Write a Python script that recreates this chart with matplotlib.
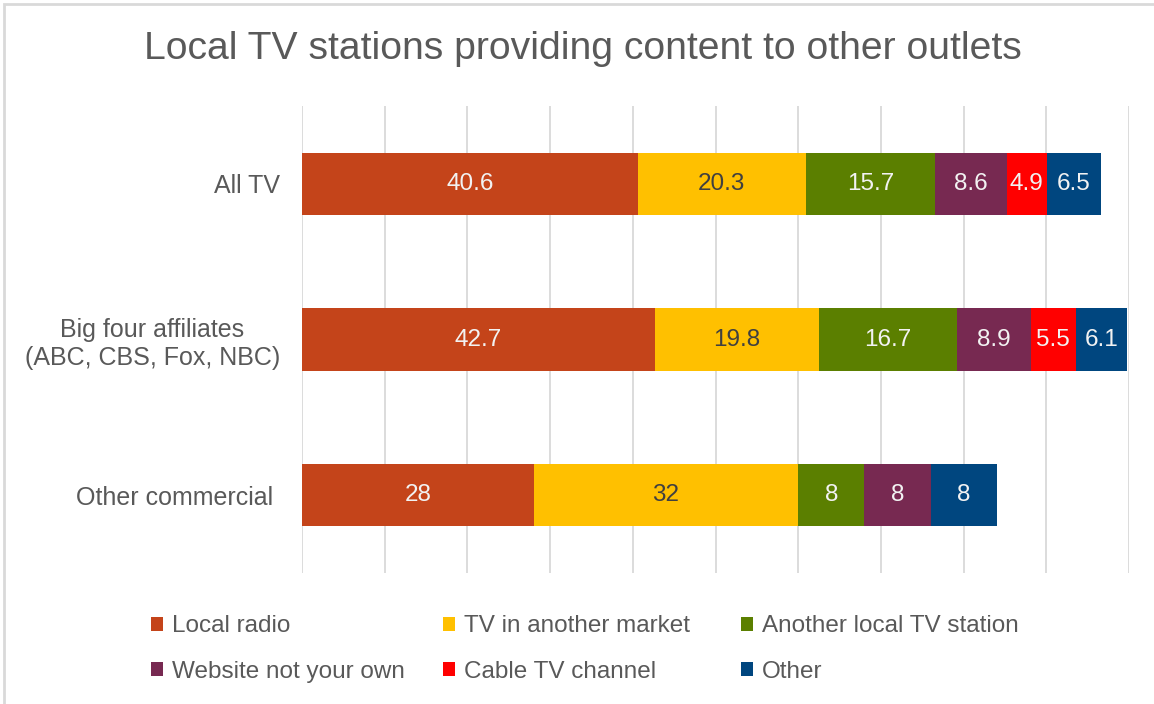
import numpy as np
import matplotlib.pyplot as plt
from matplotlib.patches import Patch, Rectangle

plt.rcParams['font.family'] = ['Liberation Sans', 'DejaVu Sans']

# Data
groups = ['All TV', 'Big four affiliates\n(ABC, CBS, Fox, NBC)', 'Other commercial ']
series = ['Local radio', 'TV in another market', 'Another local TV station',
          'Website not your own', 'Cable TV channel', 'Other']
local_radio = [40.6, 42.7, 28]
tv_other_market = [20.3, 19.8, 32]
other_local_tv = [15.7, 16.7, 8]
website = [8.6, 8.9, 8]
cable = [4.9, 5.5, 0]
other = [6.5, 6.1, 8]

values = [local_radio, tv_other_market, other_local_tv, website, cable, other]
colors = ['#C4441A', '#FFC000', '#5B7F00', '#772951', '#FF0000', '#00467F']
label_colors = ['#F2F2F2', '#404040', '#F2F2F2', '#F2F2F2', '#F2F2F2', '#F2F2F2']
text_gray = '#595959'

W, H = 1154, 704
fig = plt.figure(figsize=(W / 100, H / 100), dpi=100)
ax = fig.add_axes([302 / W, 1 - 573 / H, 827 / W, 467 / H])

y = np.arange(len(groups))
left = np.zeros(len(groups))
for vals, col, lc, name in zip(values, colors, label_colors, series):
    vals = np.array(vals, dtype=float)
    bars = ax.barh(y, vals, left=left, height=0.4, color=col, label=name, zorder=2)
    for b, v in zip(bars, vals):
        if v > 0:
            ax.text(b.get_x() + b.get_width() / 2, b.get_y() + b.get_height() / 2, f'{v:g}',
                    ha='center', va='center', color=lc, fontsize=17.5, zorder=3)
    left += vals

ax.set_xlim(0, 100)
ax.set_ylim(2.5, -0.5)
ax.set_xticks(np.arange(0, 101, 10))
ax.set_xticklabels([])
ax.set_yticks(y)
ax.set_yticklabels(groups, fontsize=18, color=text_gray, multialignment='center')
ax.tick_params(length=0, pad=16)
ax.grid(axis='x', color='#D9D9D9', linewidth=1.3, zorder=0)
for s in ax.spines.values():
    s.set_visible(False)

fig.text(583 / W, 1 - 49 / H, 'Local TV stations providing content to other outlets',
         ha='center', va='center', fontsize=28.2, color=text_gray)

# legend laid out as three fixed-width columns, filled row by row
col_x = [151, 443, 741]
for c, x0 in enumerate(col_x):
    idx = [c, c + 3]
    handles = [Patch(facecolor=colors[i], label=series[i]) for i in idx]
    fig.legend(handles=handles, loc='center left',
               bbox_to_anchor=(x0 / W, 1 - 649 / H), frameon=False,
               borderpad=0, borderaxespad=0,
               fontsize=17.5, labelcolor=text_gray, handlelength=0.5, handleheight=0.5,
               handletextpad=0.35, labelspacing=0.95)

# light frame around the chart area
fig.patches.append(Rectangle((4 / W, -0.1), 1.2, 1 - 4 / H + 0.1,
                             transform=fig.transFigure, fill=False,
                             edgecolor='#D9D9D9', linewidth=2))

fig.savefig('out.png', dpi=100, facecolor='white')
